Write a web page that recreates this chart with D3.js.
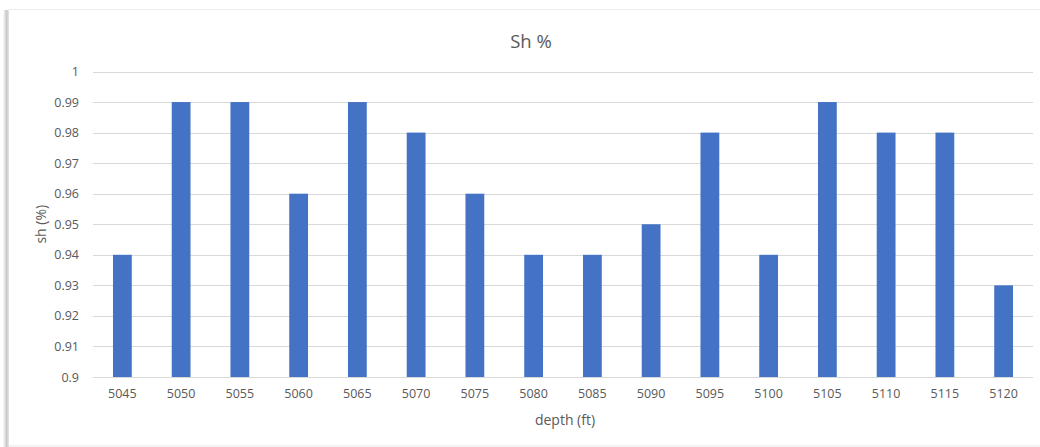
<!DOCTYPE html>
<html>
<head>
<meta charset="utf-8">
<script src="https://cdn.jsdelivr.net/npm/d3@7"></script>
<style>
  html, body { margin: 0; padding: 0; background: #fff; }
  svg { display: block; }
  text { font-family: "Open Sans", "Noto Sans", sans-serif; fill: #595959; }
</style>
</head>
<body>
<svg id="chart" width="1040" height="447"></svg>
<script>
// Shale content by depth
const depths = ["5045", "5050", "5055", "5060", "5065", "5070", "5075", "5080",
                "5085", "5090", "5095", "5100", "5105", "5110", "5115", "5120"];
const shValues = [0.94, 0.99, 0.99, 0.96, 0.99, 0.98, 0.96, 0.94,
                  0.94, 0.95, 0.98, 0.94, 0.99, 0.98, 0.98, 0.93];
const yTicks = [0.9, 0.91, 0.92, 0.93, 0.94, 0.95, 0.96, 0.97, 0.98, 0.99, 1];

const svg = d3.select("#chart");

// Chart frame with a soft left shadow
const defs = svg.append("defs");
const grad = defs.append("linearGradient").attr("id", "leftShade")
  .attr("x1", "0").attr("x2", "1").attr("y1", "0").attr("y2", "0");
grad.append("stop").attr("offset", "0").attr("stop-color", "#fff");
grad.append("stop").attr("offset", "0.6").attr("stop-color", "#c8c8c8");
grad.append("stop").attr("offset", "1").attr("stop-color", "#e6e6e6");
svg.append("rect").attr("x", 3).attr("y", 10).attr("width", 6).attr("height", 437)
  .attr("fill", "url(#leftShade)");
svg.append("line").attr("x1", 9).attr("x2", 1040).attr("y1", 9.5).attr("y2", 9.5)
  .attr("stroke", "#ececec");
svg.append("line").attr("x1", 9).attr("x2", 1040).attr("y1", 446).attr("y2", 446)
  .attr("stroke", "#e8e8e8");

const plot = { left: 93, right: 1033, top: 71.5, bottom: 377 };

const x = d3.scaleBand().domain(depths).range([plot.left, plot.right])
  .paddingInner(0.68).paddingOuter(0.34);
const y = d3.scaleLinear().domain([0.9, 1]).range([plot.bottom, plot.top]);

// Gridlines
svg.append("g").selectAll("line").data(yTicks).join("line")
  .attr("x1", plot.left).attr("x2", plot.right)
  .attr("y1", d => Math.round(y(d)) + 0.5).attr("y2", d => Math.round(y(d)) + 0.5)
  .attr("stroke", "#d9d9d9").attr("stroke-width", 1);

// Bars
svg.append("g").selectAll("rect").data(depths).join("rect")
  .attr("x", d => x(d))
  .attr("width", x.bandwidth())
  .attr("y", (d, i) => y(shValues[i]))
  .attr("height", (d, i) => y(0.9) - y(shValues[i]))
  .attr("fill", "#4472c4");

// Y axis
const yAxis = svg.append("g").attr("transform", `translate(${plot.left},0)`)
  .call(d3.axisLeft(y).tickValues(yTicks).tickSize(0).tickPadding(14)
    .tickFormat(d => d3.format("~g")(+d.toFixed(2))));
yAxis.select(".domain").remove();
yAxis.selectAll("text").attr("font-size", 12.5).attr("fill", "#595959")
  .style("font-family", "'Open Sans', 'Noto Sans', sans-serif");

// X axis
const xAxis = svg.append("g").attr("transform", `translate(0,${plot.bottom})`)
  .call(d3.axisBottom(x).tickSize(0).tickPadding(12));
xAxis.select(".domain").remove();
xAxis.selectAll("text").attr("font-size", 12.5).attr("fill", "#595959")
  .style("font-family", "'Open Sans', 'Noto Sans', sans-serif");

// Titles
svg.append("text").attr("x", 531).attr("y", 48).attr("text-anchor", "middle")
  .attr("font-size", 18.5).text("Sh %");
svg.append("text").attr("x", (plot.left + plot.right) / 2 + 2).attr("y", 425)
  .attr("text-anchor", "middle").attr("font-size", 14).text("depth (ft)");
svg.append("text")
  .attr("transform", `translate(46,${(plot.top + plot.bottom) / 2}) rotate(-90)`)
  .attr("text-anchor", "middle").attr("font-size", 14).text("sh (%)");
</script>
</body>
</html>
